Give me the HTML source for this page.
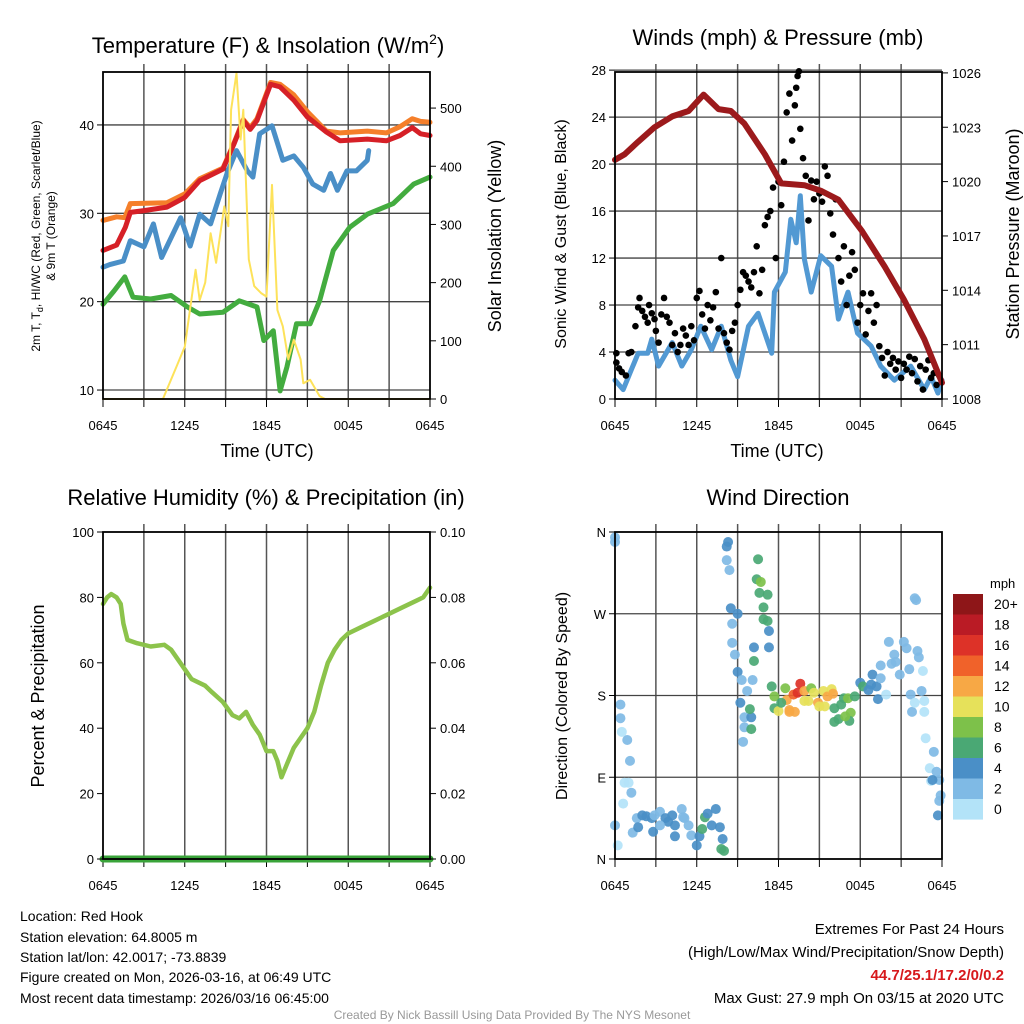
<!DOCTYPE html>
<html><head><meta charset="utf-8"><style>
html,body{margin:0;padding:0;background:#fff}
svg{display:block;font-family:"Liberation Sans",sans-serif}
</style></head><body>
<svg id="s" width="1024" height="1024" viewBox="0 0 1024 1024" xmlns="http://www.w3.org/2000/svg">
<rect width="1024" height="1024" fill="#fff"/>
<text x="268" y="53" font-size="22" text-anchor="middle">Temperature (F) &amp; Insolation (W/m<tspan font-size="14" dy="-9">2</tspan><tspan dy="9">)</tspan></text>
<text x="778" y="45" font-size="22" text-anchor="middle">Winds (mph) &amp; Pressure (mb)</text>
<text x="266" y="505" font-size="22" text-anchor="middle">Relative Humidity (%) &amp; Precipitation (in)</text>
<text x="778" y="505" font-size="22" text-anchor="middle">Wind Direction</text>
<text x="267" y="457" font-size="18" text-anchor="middle">Time (UTC)</text>
<text x="777" y="457" font-size="18" text-anchor="middle">Time (UTC)</text>
<text transform="translate(40,236) rotate(-90)" font-size="12" text-anchor="middle">2m T, T<tspan font-size="9" dy="3">d</tspan><tspan dy="-3">, HI/WC (Red, Green, Scarlet/Blue)</tspan></text>
<text transform="translate(55,236) rotate(-90)" font-size="12" text-anchor="middle">&amp; 9m T (Orange)</text>
<text transform="translate(501,236) rotate(-90)" font-size="18" text-anchor="middle">Solar Insolation (Yellow)</text>
<text transform="translate(566,234) rotate(-90)" font-size="16" text-anchor="middle">Sonic Wind &amp; Gust (Blue, Black)</text>
<text transform="translate(1019,234) rotate(-90)" font-size="18" text-anchor="middle">Station Pressure (Maroon)</text>
<text transform="translate(44,696) rotate(-90)" font-size="18" text-anchor="middle">Percent &amp; Precipitation</text>
<text transform="translate(567,696) rotate(-90)" font-size="16" text-anchor="middle">Direction (Colored By Speed)</text>
<g font-size="14">
<text x="20" y="921">Location: Red Hook</text>
<text x="20" y="942">Station elevation: 64.8005 m</text>
<text x="20" y="962">Station lat/lon: 42.0017; -73.8839</text>
<text x="20" y="982">Figure created on Mon, 2026-03-16, at 06:49 UTC</text>
<text x="20" y="1003">Most recent data timestamp: 2026/03/16 06:45:00</text>
</g>
<g font-size="15" text-anchor="end">
<text x="1004" y="934">Extremes For Past 24 Hours</text>
<text x="1004" y="957">(High/Low/Max Wind/Precipitation/Snow Depth)</text>
<text x="1004" y="980" fill="#d7191c" font-weight="bold">44.7/25.1/17.2/0/0.2</text>
<text x="1004" y="1003">Max Gust: 27.9 mph On 03/15 at 2020 UTC</text>
</g>
<text x="512" y="1019" font-size="12" fill="#999" text-anchor="middle">Created By Nick Bassill Using Data Provided By The NYS Mesonet</text>
</svg>
<script>
// ---- Panel 1 data (t = hours since 0645 UTC) ----
const tempT=[0,1,1.64,2.0,3,4.7,6.0,7.1,8.8,9.6,10.3,10.8,11.3,12.3,13.0,14.0,15.0,16.4,17.4,19.4,20.8,21.8,22.7,23.3,24];
const tempV=[25.8,26.4,28.4,30.1,30.3,30.7,31.8,33.7,35.0,37.8,40.5,39.5,40.5,44.6,44.3,42.8,40.9,39.2,38.2,38.4,38.2,38.8,39.7,39.0,38.8];
const t9T=[0,1.0,1.6,2.0,4.7,6.0,7.1,8.8,9.6,10.3,10.8,11.3,12.3,13.0,14.0,15.0,16.4,17.4,19.4,20.8,21.8,22.7,23.3,24];
const t9V=[29.2,29.6,29.5,31.1,31.2,32.2,33.9,35.1,37.9,40.6,39.7,40.7,44.8,44.6,43.4,41.5,39.3,39.1,39.3,39.1,39.8,40.7,40.4,40.3];
const hiT=[0,0.5,1.5,2,3,3.7,4.3,5.7,6.4,7.1,7.9,8.6,9.1,9.8,10.6,11.0,11.5,12.4,13.2,14.0,14.7,15.4,16.2,16.7,17.2,17.9,18.6,19.4,19.5];
const hiV=[23.9,24.2,24.6,26.9,26.2,28.8,25.0,29.5,26.3,29.9,28.8,32.2,34.5,37.1,34.8,34.1,39.0,39.9,36.0,36.5,35.2,33.3,32.6,34.5,32.6,34.8,34.8,36.0,37.1];
const tdT=[0,0.8,1.6,2.2,3.5,5,6.2,7.1,8.8,10,11.3,11.8,12.5,13.0,13.5,14.2,15.2,15.9,16.9,18.1,19.4,21.3,22.8,24];
const tdV=[19.7,21.2,22.8,20.5,20.3,20.7,19.4,18.6,18.8,20.1,19.4,15.6,16.7,9.9,12.6,17.5,17.5,20.1,25.8,28.4,29.9,31.1,33.3,34.1];
const solT=[0,4.0,4.4,5.4,6.0,6.8,7.1,7.5,7.9,8.3,8.9,9.2,9.4,9.8,10.1,10.3,10.7,11.1,11.6,12.0,12.4,12.8,13.2,13.6,14.0,14.5,14.7,15.2,15.9,16.3,24];
const solV=[0,0,0,56,90,222,170,200,285,234,331,297,497,560,446,497,240,194,182,176,368,153,125,68,102,68,27,33,5,0,0];
// ---- Panel 2 data ----
const presT=[0,0.7,1.7,2.9,4.2,5.4,6.5,7.6,8.5,9.5,11,12.2,13.9,15.1,16.4,18.1,19.8,21.2,22.7,24];
const presV=[1021.2,1021.5,1022.2,1023.0,1023.6,1023.9,1024.8,1024.0,1023.9,1023.2,1021.5,1019.9,1019.8,1019.5,1019.0,1017.3,1015.3,1013.5,1011.3,1008.9];
const windT=[0,0.6,1.2,1.7,2.4,2.7,3.2,4.2,4.9,5.6,6.3,7.1,7.8,8.5,9.0,9.8,10.5,11.5,11.7,12.5,12.9,13.3,13.6,13.9,14.4,15.1,15.9,16.4,17.1,17.8,18.8,19.5,20.5,21.7,22.7,23.2,23.7,24];
const windV=[1.6,0.8,2.5,3.9,3.9,5.1,2.8,4.8,2.8,4.2,6.2,4.2,6.2,3.3,1.9,6.2,7.3,3.9,9.1,10.8,15.3,13.3,17.3,11.9,9.1,12.2,11.3,6.8,9.1,5.6,4.5,2.8,1.6,2.8,0.8,1.9,0.5,1.6];
const gustT=[0.1,0.1,0.3,0.5,0.8,1.0,1.2,1.5,1.7,1.8,2.0,2.2,2.4,2.5,2.7,2.9,3.0,3.2,3.4,3.6,3.8,4.0,4.2,4.4,4.6,4.8,5.0,5.2,5.4,5.6,5.8,6.0,6.2,6.4,6.6,6.8,7.0,7.2,7.4,7.6,7.8,8.0,8.2,8.4,8.6,8.8,9.0,9.2,9.4,9.6,9.8,10.0,10.2,10.4,10.6,10.8,11.0,11.2,11.4,11.6,11.8,12.0,12.2,12.4,12.6,12.8,13.0,13.2,13.3,13.4,13.5,13.6,13.8,14.0,14.2,14.4,14.6,14.8,15.0,15.2,15.4,15.6,15.8,16.0,16.2,16.4,16.6,16.8,17.0,17.2,17.4,17.6,17.8,18.0,18.2,18.4,18.6,18.8,19.0,19.2,19.4,19.6,19.8,20.0,20.2,20.4,20.6,20.8,21.0,21.2,21.4,21.6,21.8,22.0,22.2,22.4,22.6,22.8,23.0,23.2,23.4,23.6,23.8];
const gustV=[3.1,3.9,2.6,2.3,2.0,3.9,4.0,6.2,7.8,8.6,7.5,7.0,6.5,8.0,7.3,6.8,5.8,4.8,7.2,8.6,7.0,6.5,4.6,5.6,4.0,4.6,6.0,5.4,4.6,6.2,5.0,8.6,9.2,7.2,6.0,8.0,6.7,7.8,9.1,6.0,12.0,5.6,4.8,4.2,5.8,6.5,8.0,9.3,10.8,10.5,10.0,9.5,10.8,13.0,9.0,11.0,14.8,15.5,16.0,18.0,12.0,18.5,16.5,20.2,24.4,26.0,22.0,25.0,26.5,27.5,27.9,23.0,20.5,19.0,15.2,18.6,17.0,18.5,17.5,16.8,19.8,19.0,15.8,14.0,17.0,12.0,10.0,13.0,8.0,10.5,12.5,11.0,6.5,8.0,9.0,5.5,7.5,9.0,6.5,8.0,4.5,3.5,2.0,4.0,3.0,3.5,2.5,3.2,1.8,3.0,2.5,3.6,2.2,3.4,1.5,2.8,0.8,2.5,3.3,1.8,2.2,1.2,2.0];
// ---- Panel 3 data ----
const rhT=[0,0.3,0.6,1.0,1.3,1.5,1.8,2.5,3.5,4.5,5,6,6.5,7.5,8,8.8,9.5,10,10.5,11,11.5,12,12.5,12.8,13.1,13.5,14,14.5,15,15.5,16,16.5,17,17.5,18,19,20,21,22,23,23.5,24];
const rhV=[78,80,81,80,78,72,67,66,65,65.5,64,58,55,53,51,48,44,43,45,41,38,33,33,30,25,29,34,37,40,45,53,60,64,67,69,71,73,75,77,79,80,83];
const precT=[0,24];
const precV=[0,0];
// ---- Panel 4 data ----
const dirT=[0,0,0.4,0.4,0.5,0.9,1.1,0.7,1.0,1.2,0.6,0,0.2,1.6,2,2.3,2.7,2.9,3.3,3.7,3.9,4.2,4.4,4.9,5.1,5.4,5.6,6,6.2,6.6,6.4,6.8,7.1,7.4,7.7,7.9,7.8,8.0,1.3,1.7,2.8,3.3,4.4,5.0,8.3,8.2,8.2,8.4,8.5,8.6,8.6,8.8,9.0,9.3,9.7,9.2,9.5,10,9.5,9.4,10,9.9,10.1,9.0,10.2,10.2,10.5,10.4,10.7,10.6,10.9,10.9,11.2,11.3,11.3,11.2,11.5,11.7,11.7,12,12.5,12.6,12.8,13.1,13.4,13.6,13.9,14.2,14.4,14.6,14.9,15.3,15.4,15.6,15.9,16,16.1,16.4,16.6,16.8,17.1,17.3,17.2,17.6,13.2,12.8,12.2,13.9,15,16.1,16.9,18,18.2,18.6,18.8,19.2,19.3,18.9,19.5,19.5,19.9,20.1,20.3,20.5,20.6,20.9,21.2,21.4,21.6,21.7,21.8,22,22,22.1,22.2,22.3,22.5,22.6,22.7,22.7,22.8,23.1,23.2,23.4,23.6,23.8,23.3,23.8,23.7,23.9];
const dirV=[354,349,170,155,140,131,108,84,84,73,61,37,15,45,48,47,45,48,52,45,41,48,37,55,45,37,26,15,25,46,33,50,37,55,35,22,11,9,29,35,30,37,25,46,349,344,329,318,276,259,238,225,206,197,185,172,156,156,145,129,143,165,197,270,233,218,330,308,305,293,277,264,262,251,233,291,190,179,166,163,188,175,164,181,183,193,185,174,188,183,172,185,168,179,187,182,166,154,170,177,177,161,152,179,162,162,172,174,168,151,157,194,190,186,192,190,176,203,199,213,181,239,215,225,217,203,239,232,209,181,162,172,287,285,229,222,185,207,174,162,133,100,86,118,96,87,87,64,48,70];
const dirS=[2,3,2,2,1,2,2,1,1,2,1,2,1,3,4,4,4,3,3,4,4,4,4,3,3,3,3,4,4,6,7,4,4,4,4,4,6,7,2,4,4,3,4,3,4,4,2,2,4,2,2,2,4,2,2,4,2,4,2,2,6,6,2,4,4,6,6,6,8,6,6,6,6,4,4,6,6,8,6,10,8,12,12,14,16,17,12,10,8,10,12,10,10,12,10,12,6,6,6,6,8,8,6,6,12,12,6,10,10,6,8,4,6,4,4,4,4,4,2,2,1,2,2,2,2,2,2,2,2,2,2,1,2,2,2,2,2,1,1,1,1,1,1,2,3,3,4,2,4,2];
const cbLabels=["20+","18","16","14","12","10","8","6","4","2","0"];
const cbColors=["#8e1618","#ba1b25","#dd3228","#f0622a","#f7a845","#e6e15a","#7dc14a","#4aa874","#4a8fc7","#7fbae5","#b3e3f8"];
const xTickLabels=["0645","1245","1845","0045","0645"];
const tempTicks=[10,20,30,40];const solTicks=[0,100,200,300,400,500];
const windTicks=[0,4,8,12,16,20,24,28];const presTicks=[1008,1011,1014,1017,1020,1023,1026];
const rhTicks=[0,20,40,60,80,100];const precTicks=["0.00","0.02","0.04","0.06","0.08","0.10"];
const dirTicks=["N","E","S","W","N"];

const NS="http://www.w3.org/2000/svg";const svg=document.getElementById('s');
function mk(tag,attrs,parent){const e=document.createElementNS(NS,tag);for(const k in attrs)e.setAttribute(k,attrs[k]);(parent||svg).appendChild(e);return e;}
function panel(x0,y0,name){const g=mk('g',{});
 const p={x0:x0,x1:x0+327,y0:y0,y1:y0+327,g:g};p.sx=t=>x0+t/24*327;return p;}
function scale(p,lo,hi){return v=>p.y1-(v-lo)/(hi-lo)*327;}
function frame(p,hGrid){
 for(let i=1;i<8;i++){const x=p.sx(i*3);const l=mk('line',{x1:x,x2:x,y1:p.y0-8,y2:p.y1,stroke:'#555','stroke-width':1.5},p.g);}
 hGrid.forEach(y=>{const l=mk('line',{x1:p.x0,x2:p.x1,y1:y,y2:y,stroke:'#444','stroke-width':1.3},p.g);});
 xTickLabels.forEach((s,i)=>{const t=mk('text',{x:p.sx(i*6),y:p.y1+31,'font-size':13,'text-anchor':'middle'},p.g);t.textContent=s;});
 for(let i=0;i<=8;i++){mk('line',{x1:p.sx(i*3),x2:p.sx(i*3),y1:p.y1,y2:p.y1+8,stroke:'#000','stroke-width':1},p.g);}
}
function border(p){const r=mk('rect',{x:p.x0,y:p.y0,width:327,height:327,fill:'none',stroke:'#000','stroke-width':1.8},p.g);}
function yTicks(p,vals,labels,sy,side){vals.forEach((v,i)=>{const y=sy(v);const x=side<0?p.x0:p.x1;
 mk('line',{x1:x,x2:x+side*6,y1:y,y2:y,stroke:'#000'},p.g);
 const t=mk('text',{x:side<0?x-9:x+10,y:y+5,'font-size':13,'text-anchor':side<0?'end':'start'},p.g);t.textContent=labels[i];});}
function line(p,T,V,sy,color,w,name){const d=T.map((t,i)=>(i?'L':'M')+p.sx(t).toFixed(1)+','+sy(V[i]).toFixed(1)).join('');
 const e=mk('path',{d:d,fill:'none',stroke:color,'stroke-width':w,'stroke-linejoin':'round','stroke-linecap':'round'},p.g);return e;}

// Panel 1
const p1=panel(103,72,'temperature-chart');const sT=scale(p1,8.9856,45.99);const sS=scale(p1,0,562);
frame(p1,tempTicks.map(sT));
line(p1,t9T,t9V,sT,'#f57f2a',5,'series-9m-temp');
line(p1,tempT,tempV,sT,'#d62027',5,'series-2m-temp');
line(p1,hiT,hiV,sT,'#4a8fc7',5,'series-hi-wc');
line(p1,tdT,tdV,sT,'#43ac3f',5,'series-dewpoint');
line(p1,solT,solV,sS,'#fde25a',2,'series-solar');
border(p1);yTicks(p1,tempTicks,tempTicks,sT,-1);yTicks(p1,solTicks,solTicks,sS,1);

// Panel 2
const p2=panel(615,72,'wind-pressure-chart');const sW=scale(p2,0,27.84);const sP=scale(p2,1008,1026.05);
frame(p2,windTicks.slice(1).map(sW));
line(p2,windT,windV,sW,'#5299d3',5,'series-wind-speed');
gustT.forEach((t,i)=>{const c=mk('circle',{cx:p2.sx(t),cy:sW(gustV[i]),r:3.3,fill:'#000'},p2.g);});
line(p2,presT,presV,sP,'#9c1a1c',6,'series-pressure');
border(p2);yTicks(p2,windTicks,windTicks,sW,-1);yTicks(p2,presTicks,presTicks,sP,1);

// Panel 3
const p3=panel(103,532,'humidity-chart');const sR=scale(p3,0,100);const sPr=scale(p3,0,0.1);
frame(p3,[]);
line(p3,rhT,rhV,sR,'#8cc34b',4.5,'series-rh');
line(p3,precT,precV,sPr,'#3aa43a',7,'series-precip');
border(p3);yTicks(p3,rhTicks,rhTicks,sR,-1);yTicks(p3,[0,0.02,0.04,0.06,0.08,0.1],precTicks,sPr,1);

// Panel 4
const p4=panel(615,532,'wind-direction-chart');const sD=scale(p4,0,360);
frame(p4,[90,180,270].map(sD));
dirT.forEach((t,i)=>{const idx=Math.min(10,Math.floor(dirS[i]/2));const c=mk('circle',{cx:p4.sx(t),cy:sD(dirV[i]),r:5,fill:cbColors[10-idx],opacity:0.92},p4.g);});
border(p4);yTicks(p4,[0,90,180,270,360],dirTicks,sD,-1);
const lg=mk('g',{});
const mph=mk('text',{x:990,y:588,'font-size':13},lg);mph.textContent='mph';
cbLabels.forEach((s,i)=>{const y=594+i*20.5;mk('rect',{x:953,y:y,width:30,height:20.6,fill:cbColors[i]},lg);
 const t=mk('text',{x:994,y:y+15,'font-size':14},lg);t.textContent=s;});
</script>
</body></html>
